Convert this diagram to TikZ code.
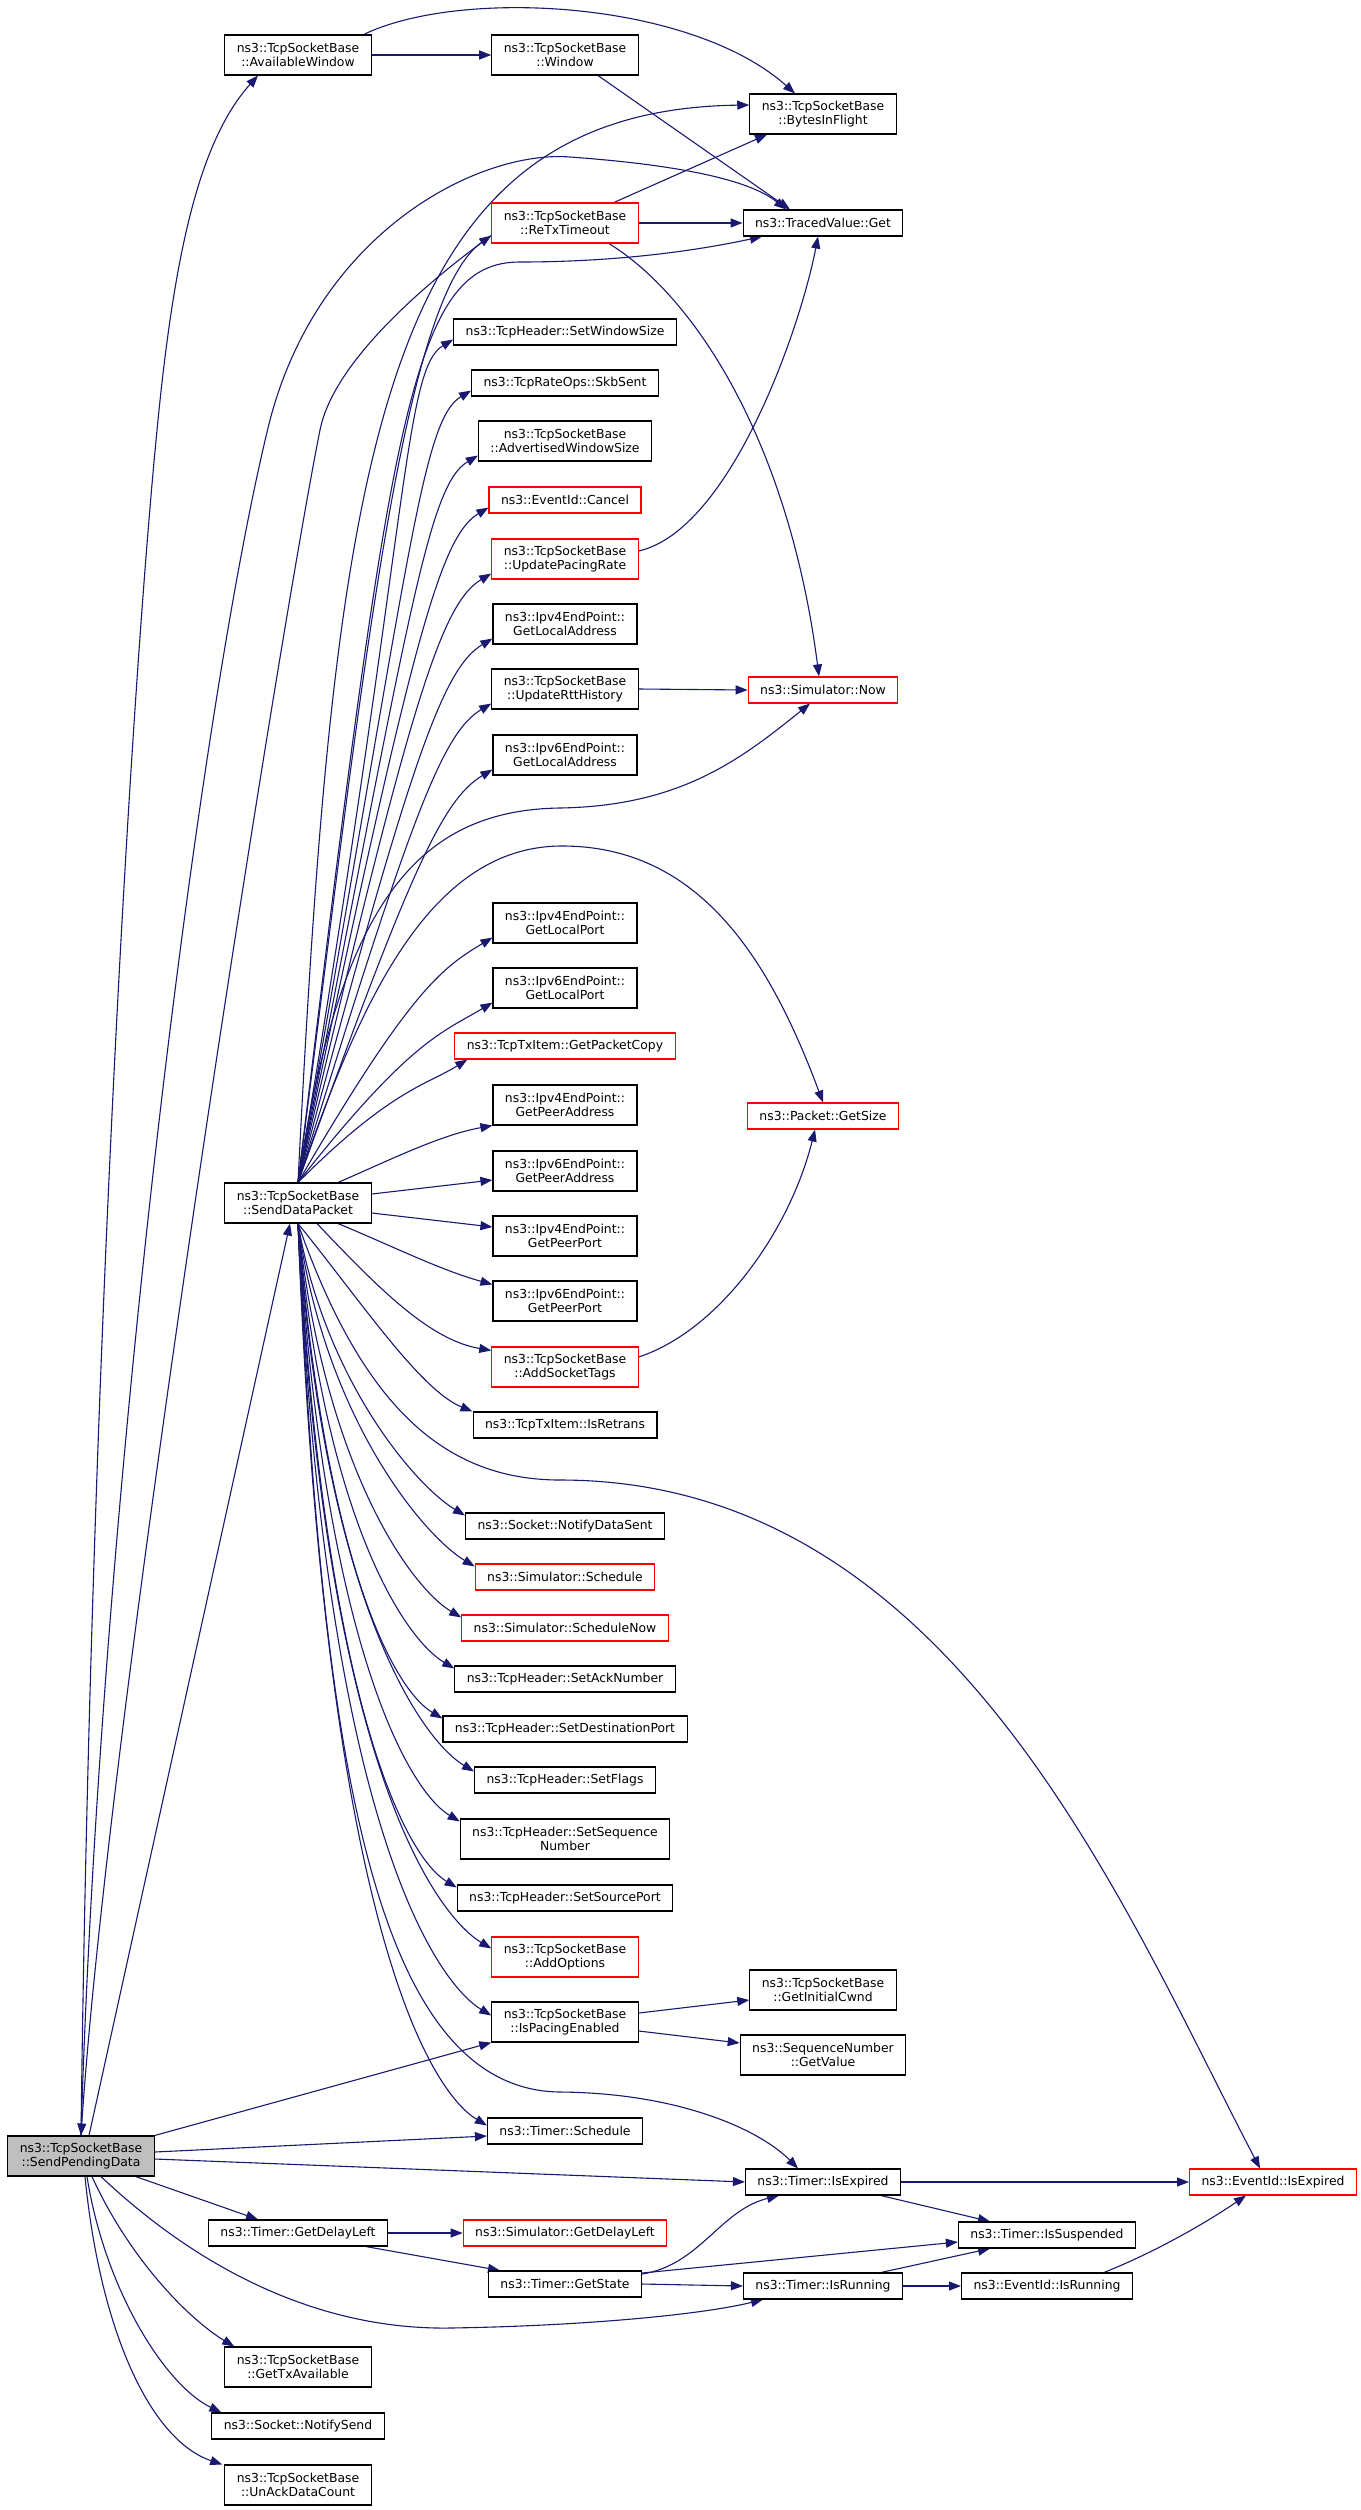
\documentclass[tikz,border=0pt]{standalone}
\usepackage{fontspec}
\setmainfont{DejaVu Sans}
\usetikzlibrary{arrows.meta,backgrounds}
\definecolor{navy}{HTML}{191970}
\definecolor{rootgray}{HTML}{BFBFBF}
\newcommand\fnsize{\fontsize{12.4}{14}\selectfont}
\tikzset{
  fn/.style={draw=black, line width=1.1pt, fill=white, inner xsep=12pt, inner ysep=3pt, minimum height=26pt, font=\fnsize},
  fnr/.style={fn, draw=red},
  two/.style={align=center, minimum height=40pt},
  call/.style={navy, line width=1.1pt, -{Triangle[length=12pt,width=9pt]}},
}
\begin{document}
\begin{tikzpicture}[x=1pt, y=-1pt]
\useasboundingbox (0,0) rectangle (1360,2510);

\node[fn, two, fill=rootgray] (spd) at (81,2156) {ns3::TcpSocketBase\\::SendPendingData};

\node[fn, two] (aw) at (298,55) {ns3::TcpSocketBase\\::AvailableWindow};
\node[fn, two] (sdp) at (298,1203) {ns3::TcpSocketBase\\::SendDataPacket};
\node[fn] (tgd) at (298,2233) {ns3::Timer::GetDelayLeft};
\node[fn, two] (gtx) at (298,2367) {ns3::TcpSocketBase\\::GetTxAvailable};
\node[fn] (nsd) at (298,2426) {ns3::Socket::NotifySend};
\node[fn, two] (uad) at (298,2485) {ns3::TcpSocketBase\\::UnAckDataCount};

\node[fn, two] (win) at (565,55) {ns3::TcpSocketBase\\::Window};
\node[fnr, two] (rtx) at (565,223) {ns3::TcpSocketBase\\::ReTxTimeout};
\node[fn] (sws) at (565,332) {ns3::TcpHeader::SetWindowSize};
\node[fn] (skb) at (565,383) {ns3::TcpRateOps::SkbSent};
\node[fn, two] (aws) at (565,441) {ns3::TcpSocketBase\\::AdvertisedWindowSize};
\node[fnr] (cnl) at (565,500) {ns3::EventId::Cancel};
\node[fnr, two] (upr) at (565,559) {ns3::TcpSocketBase\\::UpdatePacingRate};
\node[fn, two] (l4a) at (565,624) {ns3::Ipv4EndPoint::\\GetLocalAddress};
\node[fn, two] (urh) at (565,689) {ns3::TcpSocketBase\\::UpdateRttHistory};
\node[fn, two] (l6a) at (565,755) {ns3::Ipv6EndPoint::\\GetLocalAddress};
\node[fn, two] (l4p) at (565,923) {ns3::Ipv4EndPoint::\\GetLocalPort};
\node[fn, two] (l6p) at (565,988) {ns3::Ipv6EndPoint::\\GetLocalPort};
\node[fnr] (gpc) at (565,1046) {ns3::TcpTxItem::GetPacketCopy};
\node[fn, two] (l4g) at (565,1105) {ns3::Ipv4EndPoint::\\GetPeerAddress};
\node[fn, two] (l6g) at (565,1171) {ns3::Ipv6EndPoint::\\GetPeerAddress};
\node[fn, two] (l4r) at (565,1236) {ns3::Ipv4EndPoint::\\GetPeerPort};
\node[fn, two] (l6r) at (565,1301) {ns3::Ipv6EndPoint::\\GetPeerPort};
\node[fnr, two] (ast) at (565,1367) {ns3::TcpSocketBase\\::AddSocketTags};
\node[fn] (irt) at (565,1425) {ns3::TcpTxItem::IsRetrans};
\node[fn] (nds) at (565,1526) {ns3::Socket::NotifyDataSent};
\node[fnr] (ssc) at (565,1577) {ns3::Simulator::Schedule};
\node[fnr] (ssn) at (565,1628) {ns3::Simulator::ScheduleNow};
\node[fn] (sak) at (565,1679) {ns3::TcpHeader::SetAckNumber};
\node[fn] (sdt) at (565,1729) {ns3::TcpHeader::SetDestinationPort};
\node[fn] (sfl) at (565,1780) {ns3::TcpHeader::SetFlags};
\node[fn, two] (sqn) at (565,1839) {ns3::TcpHeader::SetSequence\\Number};
\node[fn] (ssp) at (565,1898) {ns3::TcpHeader::SetSourcePort};
\node[fnr, two] (aop) at (565,1957) {ns3::TcpSocketBase\\::AddOptions};
\node[fn, two] (ipe) at (565,2022) {ns3::TcpSocketBase\\::IsPacingEnabled};
\node[fn] (tsc) at (565,2131) {ns3::Timer::Schedule};
\node[fnr] (sgd) at (565,2233) {ns3::Simulator::GetDelayLeft};
\node[fn] (tgs) at (565,2284) {ns3::Timer::GetState};

\node[fn, two] (bif) at (823,114) {ns3::TcpSocketBase\\::BytesInFlight};
\node[fn] (tvg) at (823,223) {ns3::TracedValue::Get};
\node[fnr] (now) at (823,690) {ns3::Simulator::Now};
\node[fnr] (gsz) at (823,1116) {ns3::Packet::GetSize};
\node[fn, two] (gic) at (823,1990) {ns3::TcpSocketBase\\::GetInitialCwnd};
\node[fn, two] (sgv) at (823,2055) {ns3::SequenceNumber\\::GetValue};
\node[fn] (tie) at (823,2182) {ns3::Timer::IsExpired};
\node[fn] (tir) at (823,2286) {ns3::Timer::IsRunning};

\node[fn] (tsp) at (1047,2235) {ns3::Timer::IsSuspended};
\node[fn] (eir) at (1047,2286) {ns3::EventId::IsRunning};
\node[fnr] (eie) at (1273,2182) {ns3::EventId::IsExpired};

\begin{scope}[on background layer]
\fill[white] (0,0) rectangle (1360,2510);
% SendPendingData
\draw[call] (spd.north) .. controls (90,1400) and (130,700) .. (158,420) .. controls (175,250) and (200,140) .. ([xshift=-40pt]aw.south);
\draw[call] (spd.north) .. controls (100,1500) and (200,700) .. (270,420) .. controls (320,230) and (480,150) .. (570,157) .. controls (680,165) and (750,180) .. ([xshift=-37pt]tvg.north);
\draw[call] ([xshift=8pt]spd.north) -- ([xshift=-8pt]sdp.south);
\draw[call] (spd.north east) -- (ipe.south west);
\draw[call] ([yshift=4pt]spd.east) -- ([yshift=-5pt]tsc.west);
\draw[call] ([yshift=-3pt]spd.east) -- (tie.west);
\draw[call] ([xshift=-19pt]spd.south east) -- ([xshift=-40pt]tgd.north);
\draw[call] ([xshift=20pt]spd.south) .. controls (200,2270) and (320,2330) .. (450,2328) .. controls (580,2326) and (700,2315) .. ([xshift=-60pt]tir.south);
\draw[call] ([xshift=11pt]spd.south) .. controls (130,2260) and (190,2320) .. ([xshift=10pt]gtx.north west);
\draw[call] ([xshift=6pt]spd.south) .. controls (105,2290) and (165,2385) .. ([xshift=10pt]nsd.north west);
\draw[call] ([xshift=4pt]spd.south) .. controls (100,2330) and (150,2440) .. ([xshift=-2pt]uad.north west);
\draw[call] ([yshift=8pt]rtx.south west) .. controls (430,280) and (334,360) .. (320,430) .. controls (280,630) and (110,1700) .. (spd.north);

% SendDataPacket
\draw[call] (sdp.north) .. controls (360,700) and (400,300) .. ([yshift=8pt]rtx.south west);
\draw[call] (sdp.north) .. controls (335,450) and (380,110) .. ([yshift=9pt]bif.west);
\draw[call] (sdp.north) .. controls (390,420) and (410,262) .. (520,262) .. controls (620,262) and (700,250) .. ([xshift=-61pt]tvg.south);
\draw[call] (sdp.north) .. controls (340,900) and (420,810) .. (560,808) .. controls (680,806) and (740,760) .. ([xshift=-13pt]now.south);
\draw[call] (sdp.north) .. controls (360,1000) and (430,846) .. (562,846) .. controls (700,846) and (770,960) .. (gsz.north);
\foreach \n/\cy in {sws/520, skb/560, aws/610, cnl/650, upr/700, l4a/760, urh/820, l6a/870, l4p/990, l6p/1040}
  \draw[call] (sdp.north) .. controls (410,\cy) and +(-50,30) .. ([yshift=6pt]\n.south west);
\draw[call] (sdp.north) .. controls (390,1090) and +(-40,25) .. ([xshift=13pt]gpc.south west);
\draw[call] ([xshift=40pt]sdp.north) .. controls (390,1160) and (440,1135) .. (l4g.south west);
\draw[call] ([yshift=9pt]sdp.east) -- ([yshift=-9pt]l6g.west);
\draw[call] ([yshift=-10pt]sdp.east) -- ([yshift=9pt]l4r.west);
\draw[call] ([xshift=40pt]sdp.south) .. controls (390,1245) and (440,1270) .. ([yshift=-4pt]l6r.north west);
\draw[call] ([xshift=19pt]sdp.south) .. controls (380,1290) and (430,1340) .. ([yshift=-4pt]ast.north west);
\draw[call] (sdp.south) .. controls (360,1300) and (420,1390) .. (irt.north west);
\foreach \n/\cy/\s in {nds/1380/-3pt, ssc/1420/-3pt, ssn/1470/-3pt, sak/1520/-3pt, sdt/1560/-3pt, sfl/1610/-5pt, sqn/1650/-3pt, ssp/1710/-3pt, aop/1780/-12pt, ipe/1840/-14pt, tsc/1950/-8pt}
  \draw[call] (sdp.south) .. controls (325,\cy) and +(-50,-30) .. ([yshift=\s]\n.north west);
\draw[call] (sdp.south) .. controls (360,1400) and (440,1480) .. (560,1480) .. controls (950,1480) and (1120,1900) .. ([xshift=-13pt]eie.north);
\draw[call] (sdp.south) .. controls (320,1700) and (360,2090) .. (560,2092) .. controls (680,2093) and (760,2130) .. ([xshift=-25pt]tie.north);

% the others
\draw[call] (aw.east) -- (win.west);
\draw[call] ([xshift=-8pt]aw.north east) .. controls (460,-12) and (690,0) .. ([xshift=-28pt]bif.north);
\draw[call] ([xshift=33pt]win.south) -- ([xshift=-33pt]tvg.north);
\draw[call] ([xshift=49pt]rtx.north) -- ([xshift=-56pt]bif.south);
\draw[call] (rtx.east) -- (tvg.west);
\draw[call] ([xshift=44pt]rtx.south) .. controls (700,300) and (790,450) .. ([xshift=-4pt]now.north);
\draw[call] ([yshift=8pt]upr.east) .. controls (730,530) and (800,330) .. ([xshift=-5pt]tvg.south);
\draw[call] (urh.east) -- (now.west);
\draw[call] ([yshift=10pt]ast.east) .. controls (720,1330) and (790,1230) .. ([xshift=-8pt]gsz.south);
\draw[call] ([yshift=9pt]ipe.east) -- ([yshift=-10pt]gic.west);
\draw[call] ([yshift=-9pt]ipe.east) -- ([yshift=12pt]sgv.west);
\draw[call] (tgd.east) -- (sgd.west);
\draw[call] ([xshift=68pt]tgd.south) -- ([xshift=-65pt]tgs.north);
\draw[call] ([yshift=10pt]tgs.east) .. controls (700,2265) and (720,2210) .. ([xshift=-44pt]tie.south);
\draw[call] ([yshift=11pt]tgs.east) -- ([yshift=-7pt]tsp.west);
\draw[call] (tgs.east) -- (tir.west);
\draw[call] (tie.east) -- (eie.west);
\draw[call] ([xshift=58pt]tie.south) -- ([xshift=-57pt]tsp.north);
\draw[call] ([xshift=58pt]tir.north) -- ([xshift=-57pt]tsp.south);
\draw[call] (tir.east) -- (eir.west);
\draw[call] ([xshift=57pt]eir.north) .. controls (1160,2250) and (1210,2220) .. ([xshift=-27pt]eie.south);
\end{scope}
\end{tikzpicture}
\end{document}
